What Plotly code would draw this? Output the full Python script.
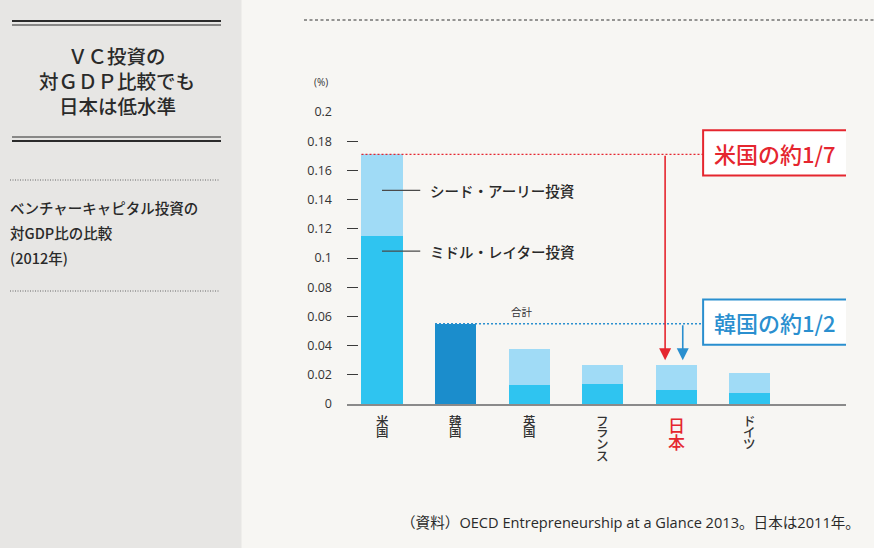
import plotly.graph_objects as go

countries = ["米国", "韓国", "英国", "フランス", "日本", "ドイツ"]
totals = [0.171, 0.055, 0.038, 0.027, 0.027, 0.0215]
middle_later = [0.115, None, 0.013, 0.014, 0.0095, 0.0078]
y_ticks = [0, 0.02, 0.04, 0.06, 0.08, 0.1, 0.12, 0.14, 0.16, 0.18, 0.2]
y_tick_labels = ["0", "0.02", "0.04", "0.06", "0.08", "0.1", "0.12", "0.14", "0.16", "0.18", "0.2"]

seed_early = [None if m is None else t - m for t, m in zip(totals, middle_later)]
korea_total = [t if m is None else None for t, m in zip(totals, middle_later)]

FONT = "Noto Sans CJK JP"
LATIN = "Open Sans, Noto Sans CJK JP"
INK = "#333333"
RED = "#e5262f"
BLUE = "#2a8fcf"
BAR_W = 0.558

W, H = 874, 548
L, R, T, B = 347, 28, 112, 144


def px(x):
    return (x - L) / (W - L - R)


def py(y):
    return (H - B - y) / (H - T - B)


idx = list(range(len(countries)))

fig = go.Figure()
fig.add_trace(go.Bar(x=idx, y=middle_later, width=BAR_W, marker=dict(color="#2fc4f0", line_width=0),
                     name="ミドル・レイター投資"))
fig.add_trace(go.Bar(x=idx, y=seed_early, width=BAR_W, marker=dict(color="#a0dbf6", line_width=0),
                     name="シード・アーリー投資"))
fig.add_trace(go.Bar(x=idx, y=korea_total, width=BAR_W, marker=dict(color="#1b8dcc", line_width=0),
                     name="合計"))

shapes = []
annotations = []

# left panel
shapes.append(dict(type="rect", xref="paper", yref="paper", x0=px(0), x1=px(241.5), y0=py(H), y1=py(0),
                   fillcolor="#e7e6e4", line_width=0, layer="below"))
for y, w in [(21, 1.8), (25, 1), (137, 1), (141, 2.2)]:
    shapes.append(dict(type="line", xref="paper", yref="paper", x0=px(12), x1=px(221), y0=py(y), y1=py(y),
                       line=dict(color="#2b2b2b", width=w)))
for y in [180, 291]:
    shapes.append(dict(type="line", xref="paper", yref="paper", x0=px(10), x1=px(220), y0=py(y), y1=py(y),
                       line=dict(color="#666666", width=1, dash="1px,1.5px")))
shapes.append(dict(type="line", xref="paper", yref="paper", x0=px(304), x1=px(W), y0=py(20), y1=py(20),
                   line=dict(color="#333333", width=1.2, dash="3px,2.5px")))

for text, y in [("ＶＣ投資の", 55), ("対ＧＤＰ比較でも", 81), ("日本は低水準", 106)]:
    annotations.append(dict(text=text, xref="paper", yref="paper", x=px(117), y=py(y), showarrow=False,
                            xanchor="center", yanchor="middle",
                            font=dict(family=FONT, size=19.5, color="#2a2a2a", weight=500)))
for text, y in [("ベンチャーキャピタル投資の", 207), ("対GDP比の比較", 232), ("(2012年)", 257)]:
    annotations.append(dict(text=text, xref="paper", yref="paper", x=px(8), y=py(y), showarrow=False,
                            xanchor="left", yanchor="middle",
                            font=dict(family=FONT, size=14.5, color="#2a2a2a", weight=500)))

# axis unit
annotations.append(dict(text="(%)", xref="paper", yref="paper", x=px(321), y=py(82), showarrow=False,
                        xanchor="center", yanchor="middle", font=dict(family=LATIN, size=10, color=INK)))

# category labels, stacked vertically one character per line
for i, name in enumerate(countries):
    big = name == "日本"
    pitch = 17 if big else 11.8
    first = 20 if big else 16
    for k, ch in enumerate(name):
        annotations.append(dict(text=ch, x=i, xref="x", yref="paper", y=0, yshift=-(first + k * pitch),
                                showarrow=False, xanchor="center", yanchor="middle",
                                font=dict(family=FONT, size=17 if big else 12.5,
                                          color=RED if big else INK, weight=500)))

# leader labels on the US bar
us_seed_mid = middle_later[0] + seed_early[0] * 0.56
us_late_mid = middle_later[0] * 0.91
for text, y in [("シード・アーリー投資", us_seed_mid), ("ミドル・レイター投資", us_late_mid)]:
    shapes.append(dict(type="line", xref="x", yref="y", x0=0, x1=0.52, y0=y, y1=y,
                       line=dict(color="#4a4a4a", width=1.2)))
    annotations.append(dict(text=text, x=0.63, y=y, xref="x", yref="y", showarrow=False,
                            xanchor="left", yanchor="middle",
                            font=dict(family=FONT, size=14.5, color="#2a2a2a", weight=500)))

annotations.append(dict(text="合計", x=1.9, y=totals[1], xref="x", yref="y", yshift=12, showarrow=False,
                        xanchor="center", yanchor="middle", font=dict(family=FONT, size=10.5, color=INK)))

# comparison guides
box_x0, box_x1 = 4.367, 6.327
jp = countries.index("日本")
for ref, color, arrow_dx, label in [(0, RED, -0.15, "米国の約1/7"), (1, BLUE, 0.09, "韓国の約1/2")]:
    v = totals[ref]
    shapes.append(dict(type="line", xref="x", yref="y", x0=ref - BAR_W / 2, x1=box_x0, y0=v, y1=v,
                       line=dict(color=color, width=1.4, dash="2px,2px")))
    shapes.append(dict(type="rect", xref="x", yref="y", x0=box_x0, x1=box_x1, y0=v + 0.001 - 0.0155,
                       y1=v + 0.001 + 0.0155, fillcolor="white", line=dict(color=color, width=2)))
    annotations.append(dict(text=label, x=(box_x0 + box_x1) / 2, y=v + 0.001, xref="x", yref="y",
                            showarrow=False, xanchor="center", yanchor="middle",
                            font=dict(family=FONT, size=22, color=color, weight=500)))
    annotations.append(dict(text="", x=jp + arrow_dx, y=totals[jp] + 0.003, ax=jp + arrow_dx, ay=v,
                            xref="x", yref="y", axref="x", ayref="y", showarrow=True,
                            arrowhead=2, arrowsize=1.5, arrowwidth=1.6, arrowcolor=color))

annotations.append(dict(text="（資料）OECD Entrepreneurship at a Glance 2013。日本は2011年。",
                        xref="paper", yref="paper", x=px(862), y=py(522), showarrow=False,
                        xanchor="right", yanchor="middle", font=dict(family=LATIN, size=14.6, color="#2a2a2a")))

fig.update_layout(
    width=W, height=H,
    margin=dict(l=L, r=R, t=T, b=B, pad=0),
    paper_bgcolor="#f7f6f3", plot_bgcolor="#f7f6f3",
    barmode="stack", bargap=0, showlegend=False,
    shapes=shapes, annotations=annotations,
    font=dict(family=FONT, color=INK),
    xaxis=dict(range=[-0.476, 6.31], showgrid=False, zeroline=False, showticklabels=False,
               showline=True, linecolor="#8a8a8a", linewidth=2, ticks="", fixedrange=True),
    yaxis=dict(range=[0, 0.2], showgrid=False, zeroline=False, showline=False,
               tickmode="array", tickvals=y_ticks, ticktext=y_tick_labels,
               ticks="inside", ticklen=11, tickwidth=1.3, tickcolor="#3a3a3a",
               ticklabelstandoff=14, tickfont=dict(family=LATIN, size=12.5, color=INK), fixedrange=True),
)

# the page's default body margin would shift the figure by 8px
fig.write_html("out.html", config={"displayModeBar": False},
               post_script="document.body.style.margin='0';")
